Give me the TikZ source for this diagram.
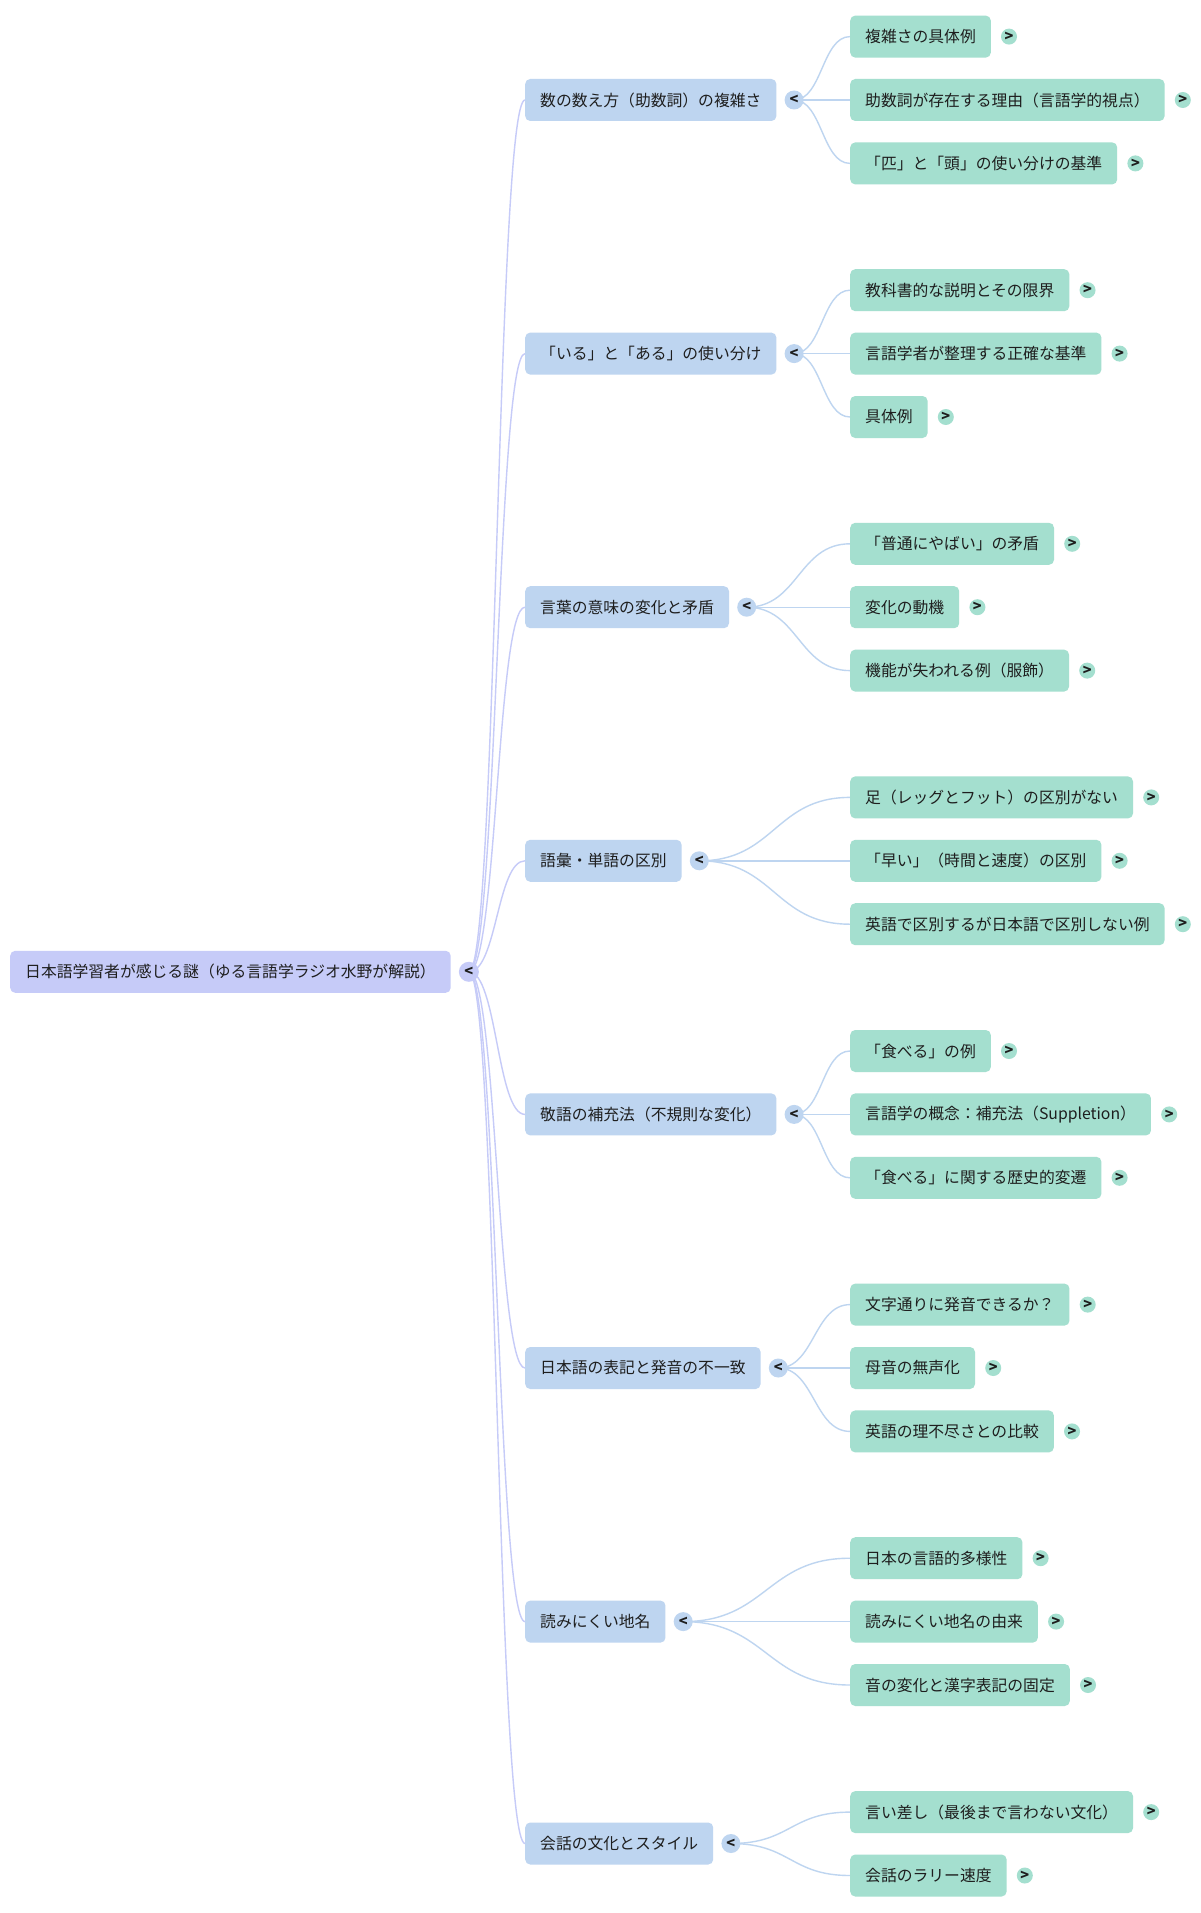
\documentclass[tikz,border=0pt]{standalone}
\usepackage{fontspec}
\setmainfont{Noto Sans CJK JP}
\usetikzlibrary{calc}

\definecolor{rootfill}{HTML}{C6CBF8}
\definecolor{topicfill}{HTML}{BED5F0}
\definecolor{leaffill}{HTML}{A4DFCF}
\definecolor{inkcol}{HTML}{1E1E1E}

\pgfdeclarelayer{bg}
\pgfsetlayers{bg,main}

\tikzset{
  box/.style={rounded corners=5pt, minimum height=42pt, inner xsep=15pt, inner ysep=0pt,
    anchor=west, text=inkcol, font=\fontsize{15.8}{18}\selectfont},
  rootbox/.style={box, fill=rootfill},
  topicbox/.style={box, fill=topicfill},
  leafbox/.style={box, fill=leaffill},
  toggle/.style={circle, inner sep=0pt, text=inkcol, font=\fontsize{14.5}{14.5}\selectfont\bfseries},
  rootlink/.style={line width=1.4pt, draw=rootfill},
  topiclink/.style={line width=1.4pt, draw=topicfill},
}

\begin{document}
\begin{tikzpicture}[x=1pt, y=-1pt]
    \useasboundingbox (0,0) rectangle (1200,1913);

    % root
    \node[rootbox] (root) at (10,971.8) {日本語学習者が感じる謎（ゆる言語学ラジオ水野が解説）};
    \node[toggle, fill=rootfill, minimum size=20pt] (rootc) at ([xshift=18pt]root.east) {<};

    % topics
    \node[topicbox] (t1) at (525,100) {数の数え方（助数詞）の複雑さ};
    \node[topicbox] (t2) at (525,353.6) {「いる」と「ある」の使い分け};
    \node[topicbox] (t3) at (525,607.2) {言葉の意味の変化と矛盾};
    \node[topicbox] (t4) at (525,860.8) {語彙・単語の区別};
    \node[topicbox] (t5) at (525,1114.4) {敬語の補充法（不規則な変化）};
    \node[topicbox] (t6) at (525,1368) {日本語の表記と発音の不一致};
    \node[topicbox] (t7) at (525,1621.6) {読みにくい地名};
    \node[topicbox] (t8) at (525,1843.5) {会話の文化とスタイル};

    % leaves
    \node[leafbox] (l11) at (850,36.6) {複雑さの具体例};
    \node[leafbox] (l12) at (850,100) {助数詞が存在する理由（言語学的視点）};
    \node[leafbox] (l13) at (850,163.4) {「匹」と「頭」の使い分けの基準};
    \node[leafbox] (l21) at (850,290.2) {教科書的な説明とその限界};
    \node[leafbox] (l22) at (850,353.6) {言語学者が整理する正確な基準};
    \node[leafbox] (l23) at (850,417) {具体例};
    \node[leafbox] (l31) at (850,543.8) {「普通にやばい」の矛盾};
    \node[leafbox] (l32) at (850,607.2) {変化の動機};
    \node[leafbox] (l33) at (850,670.6) {機能が失われる例（服飾）};
    \node[leafbox] (l41) at (850,797.4) {足（レッグとフット）の区別がない};
    \node[leafbox] (l42) at (850,860.8) {「早い」（時間と速度）の区別};
    \node[leafbox] (l43) at (850,924.2) {英語で区別するが日本語で区別しない例};
    \node[leafbox] (l51) at (850,1051) {「食べる」の例};
    \node[leafbox] (l52) at (850,1114.4) {言語学の概念：補充法（Suppletion）};
    \node[leafbox] (l53) at (850,1177.8) {「食べる」に関する歴史的変遷};
    \node[leafbox] (l61) at (850,1304.6) {文字通りに発音できるか？};
    \node[leafbox] (l62) at (850,1368) {母音の無声化};
    \node[leafbox] (l63) at (850,1431.4) {英語の理不尽さとの比較};
    \node[leafbox] (l71) at (850,1558.2) {日本の言語的多様性};
    \node[leafbox] (l72) at (850,1621.6) {読みにくい地名の由来};
    \node[leafbox] (l73) at (850,1685) {音の変化と漢字表記の固定};
    \node[leafbox] (l81) at (850,1812.1) {言い差し（最後まで言わない文化）};
    \node[leafbox] (l82) at (850,1875.5) {会話のラリー速度};

    % toggles
    \foreach \t in {t1,t2,t3,t4,t5,t6,t7,t8}
        \node[toggle, fill=topicfill, minimum size=19pt] (\t c) at ([xshift=17.5pt]\t.east) {<};
    \foreach \l in {l11,l12,l13,l21,l22,l23,l31,l32,l33,l41,l42,l43,l51,l52,l53,
                    l61,l62,l63,l71,l72,l73,l81,l82}
        \node[toggle, fill=leaffill, minimum size=16pt] (\l c) at ([xshift=18pt]\l.east) {>};

    % connectors
    \begin{pgfonlayer}{bg}
    \fill[white] (0,0) rectangle (1200,1913);
    \foreach \t in {t1,t2,t3,t4,t5,t6,t7,t8}
        \draw[rootlink] let \p1=(rootc.center), \p2=(\t.west) in
            (\p1) .. controls ({0.5*\x1+0.5*\x2},\y1) and ({0.5*\x1+0.5*\x2},\y2) .. (\p2);
    \foreach \t/\l in {t1/l11,t1/l12,t1/l13,t2/l21,t2/l22,t2/l23,t3/l31,t3/l32,t3/l33,
                       t4/l41,t4/l42,t4/l43,t5/l51,t5/l52,t5/l53,t6/l61,t6/l62,t6/l63,
                       t7/l71,t7/l72,t7/l73,t8/l81,t8/l82}
        \draw[topiclink] let \p1=(\t c.center), \p2=(\l.west) in
            (\p1) .. controls ({0.5*\x1+0.5*\x2},\y1) and ({0.5*\x1+0.5*\x2},\y2) .. (\p2);
    \end{pgfonlayer}
\end{tikzpicture}
\end{document}
